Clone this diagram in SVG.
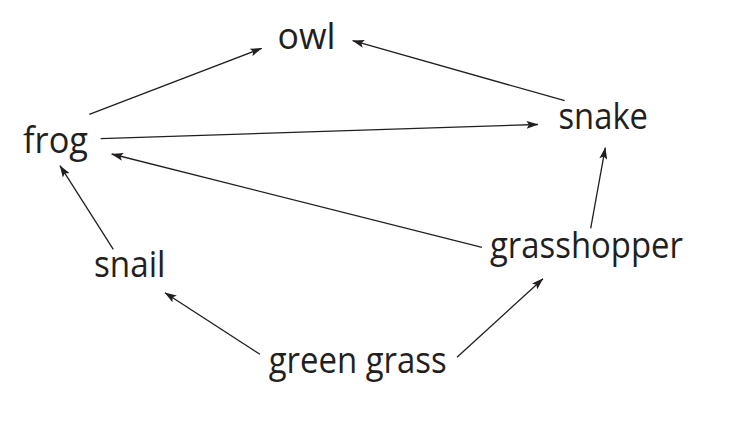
<svg xmlns="http://www.w3.org/2000/svg" width="744" height="432" viewBox="0 0 744 432">
<style>
.lbl{font-family:"Open Sans","Noto Sans","DejaVu Sans",sans-serif;font-size:36px;fill:#231f20}
.edge{stroke:#231f20;stroke-width:1.3;fill:none;marker-end:url(#arr)}
</style>
<defs>
<marker id="arr" markerUnits="userSpaceOnUse" viewBox="0 0 12 8" markerWidth="12" markerHeight="8" refX="11.5" refY="4" orient="auto">
<path d="M0,0 L12,4 L0,8 L2.5,4 z" fill="#231f20"/>
</marker>
</defs>
<rect width="744" height="432" fill="#ffffff"/>
<g id="connectors">
<line class="edge" x1="89.3" y1="114.3" x2="261.7" y2="48.3"/>
<line class="edge" x1="564.7" y1="100.7" x2="352.7" y2="40.7"/>
<line class="edge" x1="100.7" y1="138.7" x2="538" y2="124.5"/>
<line class="edge" x1="590.7" y1="228.3" x2="605.3" y2="147.7"/>
<line class="edge" x1="482" y1="247.3" x2="111.7" y2="154"/>
<line class="edge" x1="113.3" y1="249.3" x2="60" y2="165.7"/>
<line class="edge" x1="260" y1="354.3" x2="165" y2="292.7"/>
<line class="edge" x1="457" y1="357.3" x2="543" y2="278.7"/>
</g>
<g id="owl"><text class="lbl" x="277.5" y="49.3" textLength="58" lengthAdjust="spacingAndGlyphs">owl</text></g>
<g id="frog"><text class="lbl" x="23" y="152.7" textLength="65" lengthAdjust="spacingAndGlyphs">frog</text></g>
<g id="snake"><text class="lbl" x="558.5" y="128.7" textLength="89.5" lengthAdjust="spacingAndGlyphs">snake</text></g>
<g id="snail"><text class="lbl" x="94" y="277.3" textLength="71.5" lengthAdjust="spacingAndGlyphs">snail</text></g>
<g id="grasshopper"><text class="lbl" x="490" y="258.3" textLength="193" lengthAdjust="spacingAndGlyphs">grasshopper</text></g>
<g id="green-grass"><text class="lbl" x="268.7" y="373.3" textLength="178" lengthAdjust="spacingAndGlyphs">green grass</text></g>
</svg>
